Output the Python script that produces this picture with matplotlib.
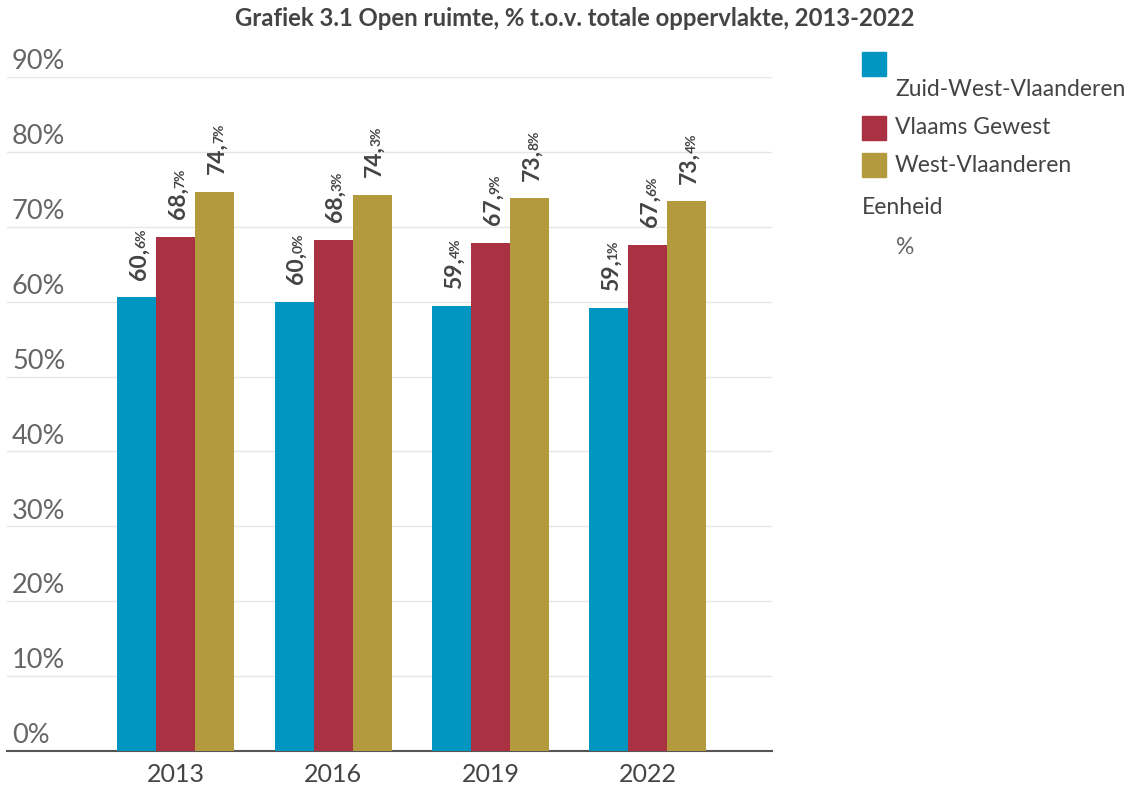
import matplotlib
matplotlib.use('Agg')
import matplotlib.pyplot as plt
import numpy as np
from matplotlib.patches import Rectangle

plt.rcParams['font.family'] = ['Lato', 'DejaVu Sans']

# Data
years = ['2013', '2016', '2019', '2022']
series_names = ['Zuid-West-Vlaanderen', 'Vlaams Gewest', 'West-Vlaanderen']
zwvl = [60.6, 60.0, 59.4, 59.1]
vlaams = [68.7, 68.3, 67.9, 67.6]
westvl = [74.7, 74.3, 73.8, 73.4]
colors = ['#0096c1', '#a93141', '#b39a3c']
y_ticks = [0, 10, 20, 30, 40, 50, 60, 70, 80, 90]

W, H = 1132, 790
fig = plt.figure(figsize=(W / 100, H / 100), dpi=100)
ax = fig.add_axes([7 / W, (H - 751) / H, (772 - 7) / W, (751 - 77) / H])

x = np.arange(len(years))
bw = 0.248
big_fs, small_fs = 16.5, 10
all_series = [zwvl, vlaams, westvl]
for i, (vals, col) in enumerate(zip(all_series, colors)):
    pos = x + (i - 1) * bw
    ax.bar(pos, vals, width=bw, color=col, zorder=3)
    for px, v in zip(pos, vals):
        whole, dec = f'{v:.1f}'.split('.')
        # baseline sits on the right of the rotated text; shift it so the digits are centred
        dx = 0.38 * big_fs
        t1 = ax.annotate(whole + ',', xy=(px, v), xytext=(dx, 12.5), textcoords='offset points',
                         ha='left', va='baseline', rotation=90, rotation_mode='anchor',
                         fontsize=big_fs, fontweight='bold', color='#444444', zorder=4)
        ax.annotate(dec + '%', xy=(px, 1.0), xycoords=('data', t1),
                    xytext=(dx, -0.5), textcoords='offset points',
                    ha='left', va='baseline', rotation=90, rotation_mode='anchor',
                    fontsize=small_fs, fontweight='bold', color='#444444', zorder=4)

ax.set_xlim(-1.074, 3.789)
ax.set_ylim(0, 90)
ax.set_yticks([])
ax.set_xticks(x)
ax.set_xticklabels(years, fontsize=18, color='#444444')
ax.tick_params(axis='x', length=0, pad=9)

# gridlines and y labels
for t in y_ticks:
    if t > 0:
        ax.axhline(t, color='#e6e6e6', linewidth=1, zorder=1)
    ax.annotate(f'{t}%', xy=(0.0065, t), xycoords=('axes fraction', 'data'),
                xytext=(0, 2), textcoords='offset points', ha='left', va='bottom',
                fontsize=19.5, color='#666666')

for s in ['top', 'right', 'left']:
    ax.spines[s].set_visible(False)
ax.spines['bottom'].set_color('#555555')
ax.spines['bottom'].set_linewidth(1.5)

fig.text(0.5 * (232 + 917) / W, 1 - 19 / H,
         'Grafiek 3.1 Open ruimte, % t.o.v. totale oppervlakte, 2013-2022',
         ha='center', va='center', fontsize=17.2, fontweight='bold', color='#444444')

# legend (manual)
sq = 24
sq_tops = [52, 116, 153]
text_y = [90, 128, 166]
for col, name, top, ty in zip(colors, series_names, sq_tops, text_y):
    fig.patches.append(Rectangle((862 / W, (H - top - sq) / H), sq / W, sq / H,
                                 transform=fig.transFigure, color=col))
    fig.text(895 / W, 1 - ty / H, name, ha='left', va='center', fontsize=16.5, color='#444444')
fig.text(862 / W, 1 - 208 / H, 'Eenheid', ha='left', va='center', fontsize=16.5, color='#444444')
fig.text(896 / W, 1 - 247 / H, '%', ha='left', va='center', fontsize=16.5, color='#666666')

fig.savefig('out.png', dpi=100)
